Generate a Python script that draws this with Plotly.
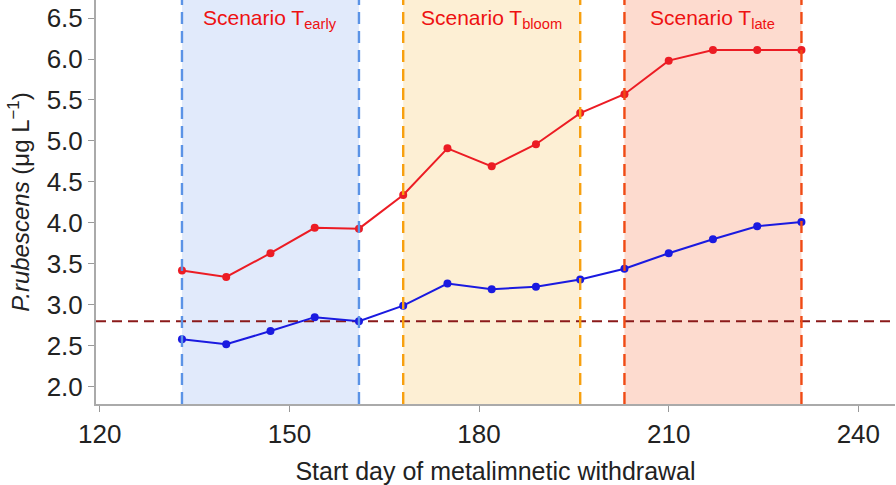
import plotly.graph_objects as go

days = [133, 140, 147, 154, 161, 168, 175, 182, 189, 196, 203, 210, 217, 224, 231]
red_vals = [3.42, 3.34, 3.63, 3.94, 3.93, 4.34, 4.91, 4.69, 4.96, 5.34, 5.57, 5.98, 6.11, 6.11, 6.11]
blue_vals = [2.58, 2.52, 2.68, 2.85, 2.80, 2.99, 3.26, 3.19, 3.22, 3.31, 3.44, 3.63, 3.80, 3.96, 4.01]
baseline = 2.80

scenario_names = ["early", "bloom", "late"]
scenario_starts = [133, 168, 203]
scenario_ends = [161, 196, 231]
scenario_fill = ["#e1eafb", "#fdefd4", "#fddbcf"]
scenario_line = ["#5b93e6", "#f7a010", "#f04a14"]

x_ticks = [120, 150, 180, 210, 240]
y_ticks = [2.0, 2.5, 3.0, 3.5, 4.0, 4.5, 5.0, 5.5, 6.0, 6.5]

fig = go.Figure()

shapes = []
for s, e, fc in zip(scenario_starts, scenario_ends, scenario_fill):
    shapes.append(dict(type="rect", xref="x", yref="paper", x0=s, x1=e, y0=0, y1=1,
                       fillcolor=fc, line=dict(width=0), layer="below"))
for s, e, lc in zip(scenario_starts, scenario_ends, scenario_line):
    for xv in (s, e):
        shapes.append(dict(type="line", xref="x", yref="paper", x0=xv, x1=xv, y0=0, y1=1,
                           line=dict(color=lc, width=2.4, dash="12px,7px"), layer="above"))
shapes.append(dict(type="line", xref="paper", yref="y", x0=0, x1=1, y0=baseline, y1=baseline,
                   line=dict(color="#8b1a1a", width=1.8, dash="10px,6px"), layer="below"))

fig.add_trace(go.Scatter(x=days, y=red_vals, mode="lines+markers",
                         line=dict(color="#ec1c24", width=2),
                         marker=dict(color="#ec1c24", size=8), showlegend=False))
fig.add_trace(go.Scatter(x=days, y=blue_vals, mode="lines+markers",
                         line=dict(color="#1a1ae0", width=2),
                         marker=dict(color="#1a1ae0", size=8), showlegend=False))

annotations = []
for name, s, e in zip(scenario_names, scenario_starts, scenario_ends):
    annotations.append(dict(x=(s + e) / 2, y=1, xref="x", yref="paper", yanchor="top",
                            yshift=-4, showarrow=False,
                            text=f"Scenario T<sub>{name}</sub>",
                            font=dict(family="Liberation Sans, Arial", size=21, color="#ee1111")))

fig.update_layout(
    width=896, height=485,
    margin=dict(l=96, r=1, t=0, b=81),
    plot_bgcolor="white", paper_bgcolor="white",
    shapes=shapes, annotations=annotations,
    font=dict(family="Liberation Sans, Arial", color="#222222"),
    xaxis=dict(range=[119.4, 245.8], tickvals=x_ticks, ticks="outside", ticklen=6,
               tickcolor="#999999", showline=True, linecolor="#aaaaaa", linewidth=2,
               showgrid=False, zeroline=False, tickfont=dict(size=26), automargin=False,
               title=dict(text="Start day of metalimnetic withdrawal", font=dict(size=25), standoff=20)),
    yaxis=dict(range=[1.79, 6.72], tickvals=y_ticks, tickformat=".1f", ticks="outside", ticklen=6,
               tickcolor="#999999", showline=True, linecolor="#aaaaaa", linewidth=2,
               showgrid=False, zeroline=False, tickfont=dict(size=26), automargin=False,
               title=dict(text="<i>P.rubescens</i> (μg L<sup>−1</sup>)", font=dict(size=24), standoff=10)),
)

fig.write_html("out.html",
               config={"displayModeBar": False},
               post_script="document.body.style.margin='0';document.body.style.overflow='hidden';")
